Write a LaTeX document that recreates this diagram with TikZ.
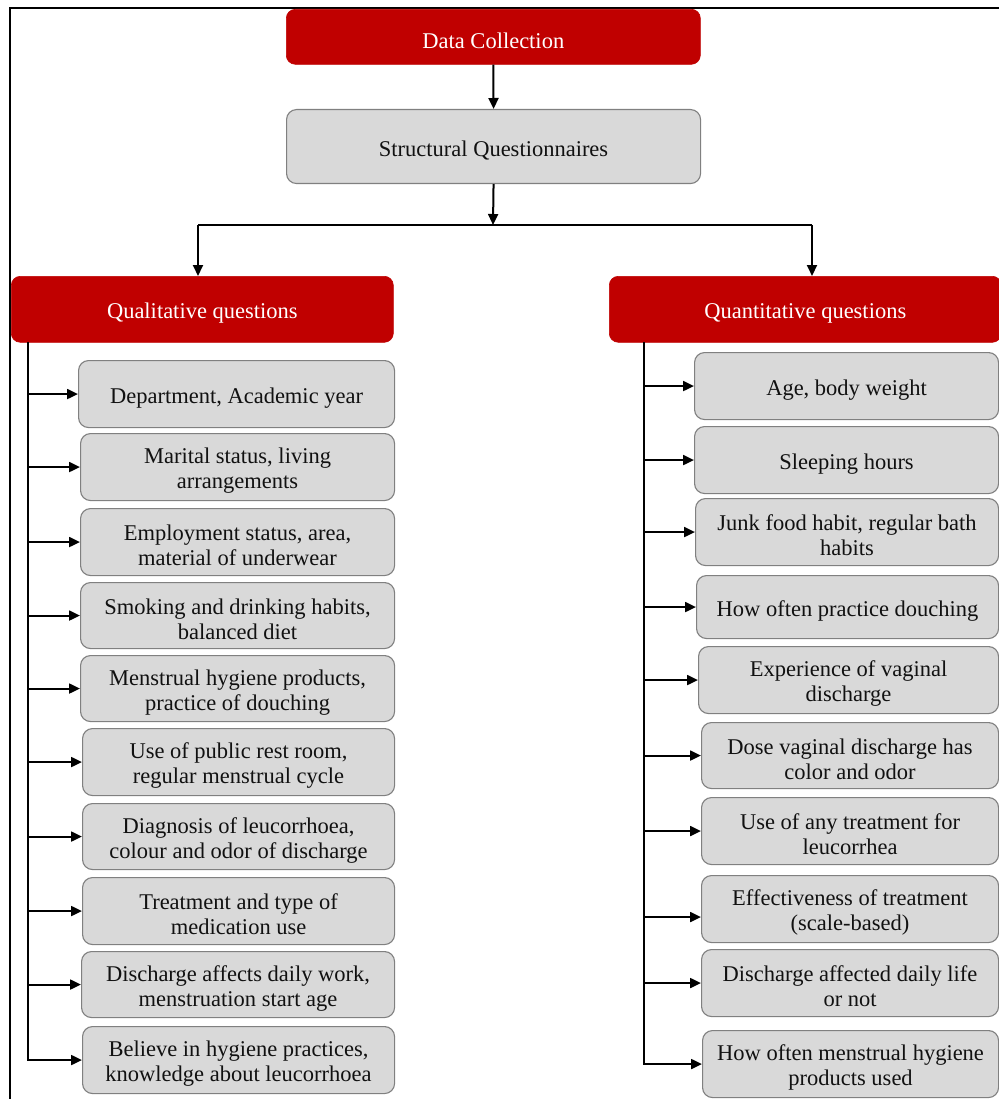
\documentclass[tikz,border=0pt]{standalone}
\usepackage{fontspec}
\setmainfont{Liberation Serif}
\usetikzlibrary{arrows.meta,calc}
\definecolor{hdrred}{HTML}{C00000}
\definecolor{boxgray}{HTML}{D9D9D9}
\definecolor{boxline}{HTML}{808080}
\definecolor{txt}{HTML}{111111}
\newcommand{\lowstrut}{\rule{0pt}{23pt}}
\begin{document}
\begin{tikzpicture}[x=1pt,y=-1pt,
  redbox/.style={fill=hdrred,draw=hdrred,line width=0.6pt,rounded corners=9pt,inner sep=0pt,
     text=white,align=center,anchor=north west,font=\fontsize{22.5}{25}\selectfont},
  graybox/.style={fill=boxgray,draw=boxline,line width=1.1pt,rounded corners=10pt,inner sep=0pt,
     text=txt,align=center,anchor=north west,font=\fontsize{22.5}{25}\selectfont},
  conn/.style={line width=2pt,draw=black},
  arr/.style={conn,-{Triangle[length=11pt,width=10pt]}}]
\useasboundingbox (0,0) rectangle (998,1099);
\fill[white] (0,0) rectangle (998,1099);
% frame
\draw[line width=2pt] (9.5,1100) -- (9.5,8) -- (999,8);
% top
\node[redbox,minimum width=414pt,minimum height=55pt] (dc) at (286,9) {\lowstrut Data Collection};
\node[graybox,minimum width=414pt,minimum height=74pt] (sq) at (286,109) {\lowstrut Structural Questionnaires};
\node[redbox,minimum width=382pt,minimum height=66pt] (qual) at (11,276) {\lowstrut Qualitative questions};
\node[redbox,minimum width=392pt,minimum height=66pt] (quan) at (609,276) {\lowstrut Quantitative questions};
\draw[arr] (dc.south) -- (sq.north);
\coordinate (split) at (493,225);
\coordinate (sl) at (198,225);
\coordinate (sr) at (812,225);
\draw[arr] (sq.south) -- (split);
\draw[conn] (sl) -- (sr);
\draw[arr] (sl) -- (sl |- qual.north);
\draw[arr] (sr) -- (sr |- quan.north);
% left column
\node[graybox,minimum width=316pt,minimum height=67pt] (l1) at (78,360) {\lowstrut Department, Academic year};
\node[graybox,minimum width=314pt,minimum height=67pt] (l2) at (80,433) {\lowstrut Marital status, living\\arrangements};
\node[graybox,minimum width=314pt,minimum height=67pt] (l3) at (80,508) {\lowstrut Employment status, area,\\material of underwear};
\node[graybox,minimum width=314pt,minimum height=66pt] (l4) at (80,582) {\lowstrut Smoking and drinking habits,\\balanced diet};
\node[graybox,minimum width=314pt,minimum height=66pt] (l5) at (80,655) {\lowstrut Menstrual hygiene products,\\practice of douching};
\node[graybox,minimum width=312pt,minimum height=67pt] (l6) at (82,728) {\lowstrut Use of public rest room,\\regular menstrual cycle};
\node[graybox,minimum width=312pt,minimum height=66pt] (l7) at (82,803) {\lowstrut Diagnosis of leucorrhoea,\\colour and odor of discharge};
\node[graybox,minimum width=312pt,minimum height=67pt] (l8) at (82,877) {\lowstrut Treatment and type of\\medication use};
\node[graybox,minimum width=313pt,minimum height=66pt] (l9) at (81,951) {\lowstrut Discharge affects daily work,\\menstruation start age};
\node[graybox,minimum width=312pt,minimum height=67pt] (l10) at (82,1026) {\lowstrut Believe in hygiene practices,\\knowledge about leucorrhoea};
\coordinate (lt) at (28,342);
\draw[arr] (lt) |- (l10.west);
\foreach \n in {l1,l2,l3,l4,l5,l6,l7,l8,l9} {\draw[arr] (lt |- \n.west) -- (\n.west);}
% right column
\node[graybox,minimum width=304pt,minimum height=67pt] (r1) at (694,352) {\lowstrut Age, body weight};
\node[graybox,minimum width=304pt,minimum height=67pt] (r2) at (694,426) {\lowstrut Sleeping hours};
\node[graybox,minimum width=303pt,minimum height=67pt] (r3) at (695,498) {\lowstrut Junk food habit, regular bath\\habits};
\node[graybox,minimum width=302pt,minimum height=63pt] (r4) at (696,575) {\lowstrut How often practice douching};
\node[graybox,minimum width=300pt,minimum height=67pt] (r5) at (698,646) {\lowstrut Experience of vaginal\\discharge};
\node[graybox,minimum width=297pt,minimum height=66pt] (r6) at (701,722) {\lowstrut Dose vaginal discharge has\\color and odor};
\node[graybox,minimum width=297pt,minimum height=67pt] (r7) at (701,797) {\lowstrut Use of any treatment for\\leucorrhea};
\node[graybox,minimum width=297pt,minimum height=67pt] (r8) at (701,875) {\lowstrut Effectiveness of treatment\\(scale-based)};
\node[graybox,minimum width=297pt,minimum height=67pt] (r9) at (701,949) {\lowstrut Discharge affected daily life\\or not};
\node[graybox,minimum width=296pt,minimum height=67pt] (r10) at (702,1030) {\lowstrut How often menstrual hygiene\\products used};
\coordinate (rt) at (644,342);
\draw[arr] (rt) |- (r10.west);
\foreach \n in {r1,r2,r3,r4,r5,r6,r7,r9} {\draw[arr] (rt |- \n.west) -- (\n.west);}
\draw[arr] (rt |- {$(r8.west)+(0,8)$}) -- ($(r8.west)+(0,8)$);
\end{tikzpicture}
\end{document}
